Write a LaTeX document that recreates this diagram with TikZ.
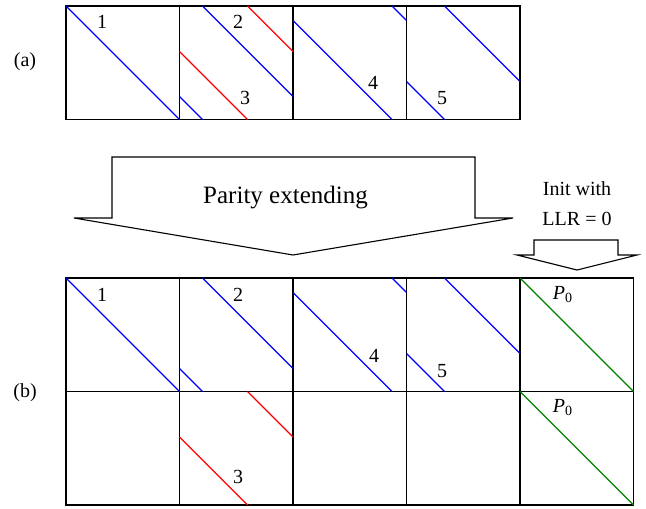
\documentclass[tikz,border=0pt]{standalone}
\usepackage{fontspec}
\setmainfont{Liberation Serif}
\usepackage{xcolor}
\usepackage{tikz}

\tikzset{
  cellline/.style={line width=0.85pt},
  blueline/.style={blue,line width=0.55pt},
  redline/.style={red,line width=0.55pt},
  greenline/.style={green!50!black,line width=0.55pt},
  arrowshape/.style={draw=black,fill=white,line width=0.55pt,line join=miter},
  lbl/.style={font=\fontsize{10}{12}\selectfont,inner sep=0pt}
}

\begin{document}
\begin{tikzpicture}[x=0.5pt,y=-0.5pt]
\useasboundingbox (0,0) rectangle (646,508);

% (a) the four blocks
\draw [cellline] (66,6) rectangle (520,119.5);
\foreach \xa in {179.5,293,406.5}
  \draw [cellline] (\xa,6) -- (\xa,119.5);
\node[lbl] (taga) at (25,62) {(a)};

\draw [blueline] (66,6) -- (179.5,119.5);
\draw [blueline] (202.5,6) -- (293,96.5);
\draw [blueline] (179.5,96.5) -- (202.5,119.5);
\draw [redline] (247.5,6) -- (293,51.5);
\draw [redline] (179.5,51.5) -- (247.5,119.5);
\draw [blueline] (392,6) -- (406.5,20.5);
\draw [blueline] (293,20.5) -- (392,119.5);
\draw [blueline] (444.5,6) -- (520,81.5);
\draw [blueline] (406.5,81.5) -- (444.5,119.5);
\node[lbl] (a1) at (102,22) {1};
\node[lbl] (a2) at (238,22) {2};
\node[lbl] (a3) at (245,98) {3};
\node[lbl] (a4) at (373,83) {4};
\node[lbl] (a5) at (442,98) {5};

% arrows
\filldraw [arrowshape] (112,157) -- (475,157) -- (475,218) -- (513,218) -- (293,255)
  -- (74,218) -- (112,218) -- cycle;
\node[inner sep=0pt,anchor=base,font=\fontsize{12.5}{15}\selectfont] (parity) at (285.5,203) {Parity extending};
\filldraw [arrowshape] (534,240) -- (618,240) -- (618,255) -- (637,255) -- (577,270)
  -- (517,255) -- (534,255) -- cycle;
\node[lbl,anchor=base] (init) at (577,195) {Init with};
\node[lbl,anchor=base] (llr) at (577,225) {LLR = 0};

% (b) extended blocks, two rows
\draw [cellline] (66,278) rectangle (633.5,505);
\draw [cellline] (66,391.5) -- (633.5,391.5);
\foreach \xb in {179.5,293,406.5,520}
  \draw [cellline] (\xb,278) -- (\xb,505);
\node[lbl] (tagb) at (25,393) {(b)};

\draw [blueline] (66,278) -- (179.5,391.5);
\draw [blueline] (202.5,278) -- (293,368.5);
\draw [blueline] (179.5,368.5) -- (202.5,391.5);
\draw [redline] (247.5,391.5) -- (293,437);
\draw [redline] (179.5,437) -- (247.5,505);
\draw [blueline] (392,278) -- (406.5,292.5);
\draw [blueline] (293,292.5) -- (392,391.5);
\draw [blueline] (444.5,278) -- (520,353.5);
\draw [blueline] (406.5,353.5) -- (444.5,391.5);
\draw [greenline] (520,278) -- (633.5,391.5);
\draw [greenline] (520,391.5) -- (633.5,505);
\node[lbl] (b1) at (102,295) {1};
\node[lbl] (b2) at (238,295) {2};
\node[lbl] (b3) at (238,477) {3};
\node[lbl] (b4) at (374,356) {4};
\node[lbl] (b5) at (442,371) {5};
\node[lbl] (p0top) at (563,295) {\textit{P}\textsubscript{0}};
\node[lbl] (p0bot) at (563,408) {\textit{P}\textsubscript{0}};
\end{tikzpicture}
\end{document}
